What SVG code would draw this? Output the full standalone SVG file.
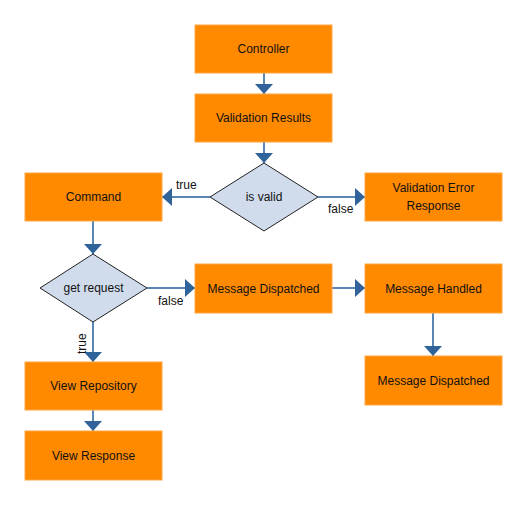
<svg xmlns="http://www.w3.org/2000/svg" width="527" height="505" viewBox="0 0 527 505">
<style>
.box{fill:#ff8a00;stroke:#ffa640;stroke-width:1}
.dia{fill:#d0dcec;stroke:#222;stroke-width:1}
.t{font-family:"Liberation Sans",Arial,sans-serif;font-size:12px;fill:#111;text-anchor:middle;dominant-baseline:central}
.lbl{font-family:"Liberation Sans",Arial,sans-serif;font-size:12px;fill:#111}
.c{stroke:#5a86b3;stroke-width:2;fill:none}
</style>
<defs>
<marker id="ah" viewBox="0 0 10 10" refX="10" refY="5" markerWidth="10" markerHeight="18" markerUnits="userSpaceOnUse" orient="auto" preserveAspectRatio="none">
<path d="M0,0 L10,5 L0,10 Z" fill="#2f6399"/>
</marker>
</defs>
<rect width="527" height="505" fill="#fff"/>
<g id="connectors">
<path class="c" d="M264,73 V94" marker-end="url(#ah)"/>
<path class="c" d="M264,142 V163" marker-end="url(#ah)"/>
<path class="c" d="M210,197 H162" marker-end="url(#ah)"/>
<path class="c" d="M318,197 H365" marker-end="url(#ah)"/>
<path class="c" d="M93,221 V254" marker-end="url(#ah)"/>
<path class="c" d="M147,288 H195" marker-end="url(#ah)"/>
<path class="c" d="M93,322 V362" marker-end="url(#ah)"/>
<path class="c" d="M332,288 H365" marker-end="url(#ah)"/>
<path class="c" d="M433,313 V356" marker-end="url(#ah)"/>
<path class="c" d="M93,410 V431" marker-end="url(#ah)"/>
<text class="lbl" x="176" y="189">true</text>
<text class="lbl" x="328" y="213">false</text>
<text class="lbl" x="158" y="305">false</text>
<text class="lbl" transform="translate(86,354) rotate(-90)">true</text>
</g>
<g id="controller"><rect class="box" x="195" y="25" width="137" height="48"/><text class="t" x="263.5" y="49">Controller</text></g>
<g id="validation-results"><rect class="box" x="195" y="94" width="137" height="48"/><text class="t" x="263.5" y="118">Validation Results</text></g>
<g id="is-valid"><polygon class="dia" points="264,163 318,197 264,231 210,197"/><text class="t" x="264" y="197">is valid</text></g>
<g id="command"><rect class="box" x="25" y="173" width="137" height="48"/><text class="t" x="93.5" y="197">Command</text></g>
<g id="validation-error"><rect class="box" x="365" y="173" width="137" height="48"/><text class="t" x="433.5" y="188">Validation Error</text><text class="t" x="433.5" y="206">Response</text></g>
<g id="get-request"><polygon class="dia" points="93,254 147,288 93,322 40,288"/><text class="t" x="93.5" y="288">get request</text></g>
<g id="message-dispatched"><rect class="box" x="195" y="264" width="137" height="49"/><text class="t" x="263.5" y="288.5">Message Dispatched</text></g>
<g id="message-handled"><rect class="box" x="365" y="264" width="137" height="49"/><text class="t" x="433.5" y="288.5">Message Handled</text></g>
<g id="message-dispatched-2"><rect class="box" x="365" y="356" width="137" height="49"/><text class="t" x="433.5" y="380.5">Message Dispatched</text></g>
<g id="view-repository"><rect class="box" x="25" y="362" width="137" height="48"/><text class="t" x="93.5" y="386">View Repository</text></g>
<g id="view-response"><rect class="box" x="25" y="431" width="137" height="49"/><text class="t" x="93.5" y="455.5">View Response</text></g>
</svg>
